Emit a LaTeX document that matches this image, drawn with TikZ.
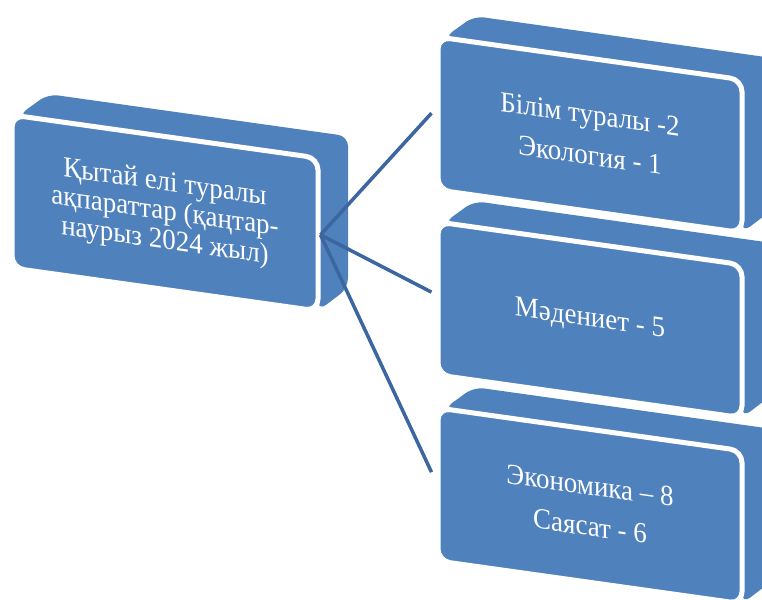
\documentclass[tikz,border=0pt]{standalone}
\usepackage{fontspec}
\setmainfont{Liberation Serif}[FakeStretch=0.93]
\usepackage{tikz, xcolor}
\definecolor{boxblue}{HTML}{4F81BD}
\definecolor{linkblue}{HTML}{3B66A0}

\begin{document}
\begin{tikzpicture}[x=1pt, y=1pt,
    face/.style={rectangle, fill=boxblue, draw=white, line width=5pt, rounded corners=12pt,
        transform shape, text=white, align=center, font=\fontsize{29}{41}\selectfont},
    side/.style={fill=boxblue, rounded corners=10pt},
    link/.style={draw=linkblue, line width=3.5pt}]

    \useasboundingbox (0,0) rectangle (762,-599);
    \clip (0,0) rectangle (762,-599);

    % left box
    \begin{scope}[shift={(12,-115)}, yslant=-0.1405]
        \fill[side] (6,0) -- (36,26) -- (336,26) -- (336,-126) -- (306,-153) -- (306,0) -- cycle;
        \node[face, minimum width=306pt, minimum height=153pt,
            font=\fontsize{29}{29}\selectfont] (info) at (153,-76.5)
            {Қытай елі туралы\\ақпараттар (қаңтар-\\наурыз 2024 жыл)};
    \end{scope}

    % right boxes
    \begin{scope}[shift={(438,-37)}, yslant=-0.1405]
        \fill[side] (6,0) -- (36,26) -- (334,26) -- (334,-126) -- (304,-153) -- (304,0) -- cycle;
        \node[face, minimum width=304pt, minimum height=153pt] (edu) at (152,-76.5)
            {Білім туралы -2\\Экология - 1};
    \end{scope}
    \begin{scope}[shift={(438,-222)}, yslant=-0.1405]
        \fill[side] (6,0) -- (36,26) -- (334,26) -- (334,-126) -- (304,-153) -- (304,0) -- cycle;
        \node[face, minimum width=304pt, minimum height=153pt] (culture) at (152,-76.5)
            {Мәдениет - 5};
    \end{scope}
    \begin{scope}[shift={(438,-408)}, yslant=-0.1405]
        \fill[side] (6,0) -- (36,26) -- (334,26) -- (334,-126) -- (304,-153) -- (304,0) -- cycle;
        \node[face, minimum width=304pt, minimum height=153pt] (econ) at (152,-76.5)
            {Экономика – 8\\Саясат - 6};
    \end{scope}

    \path[link]
        (info.east) -- ([xshift=-4pt]edu.west)
        (info.east) -- ([shift={(-4pt,6pt)}]culture.west)
        (info.east) -- ([shift={(-4pt,12pt)}]econ.west)
    ;
\end{tikzpicture}
\end{document}
